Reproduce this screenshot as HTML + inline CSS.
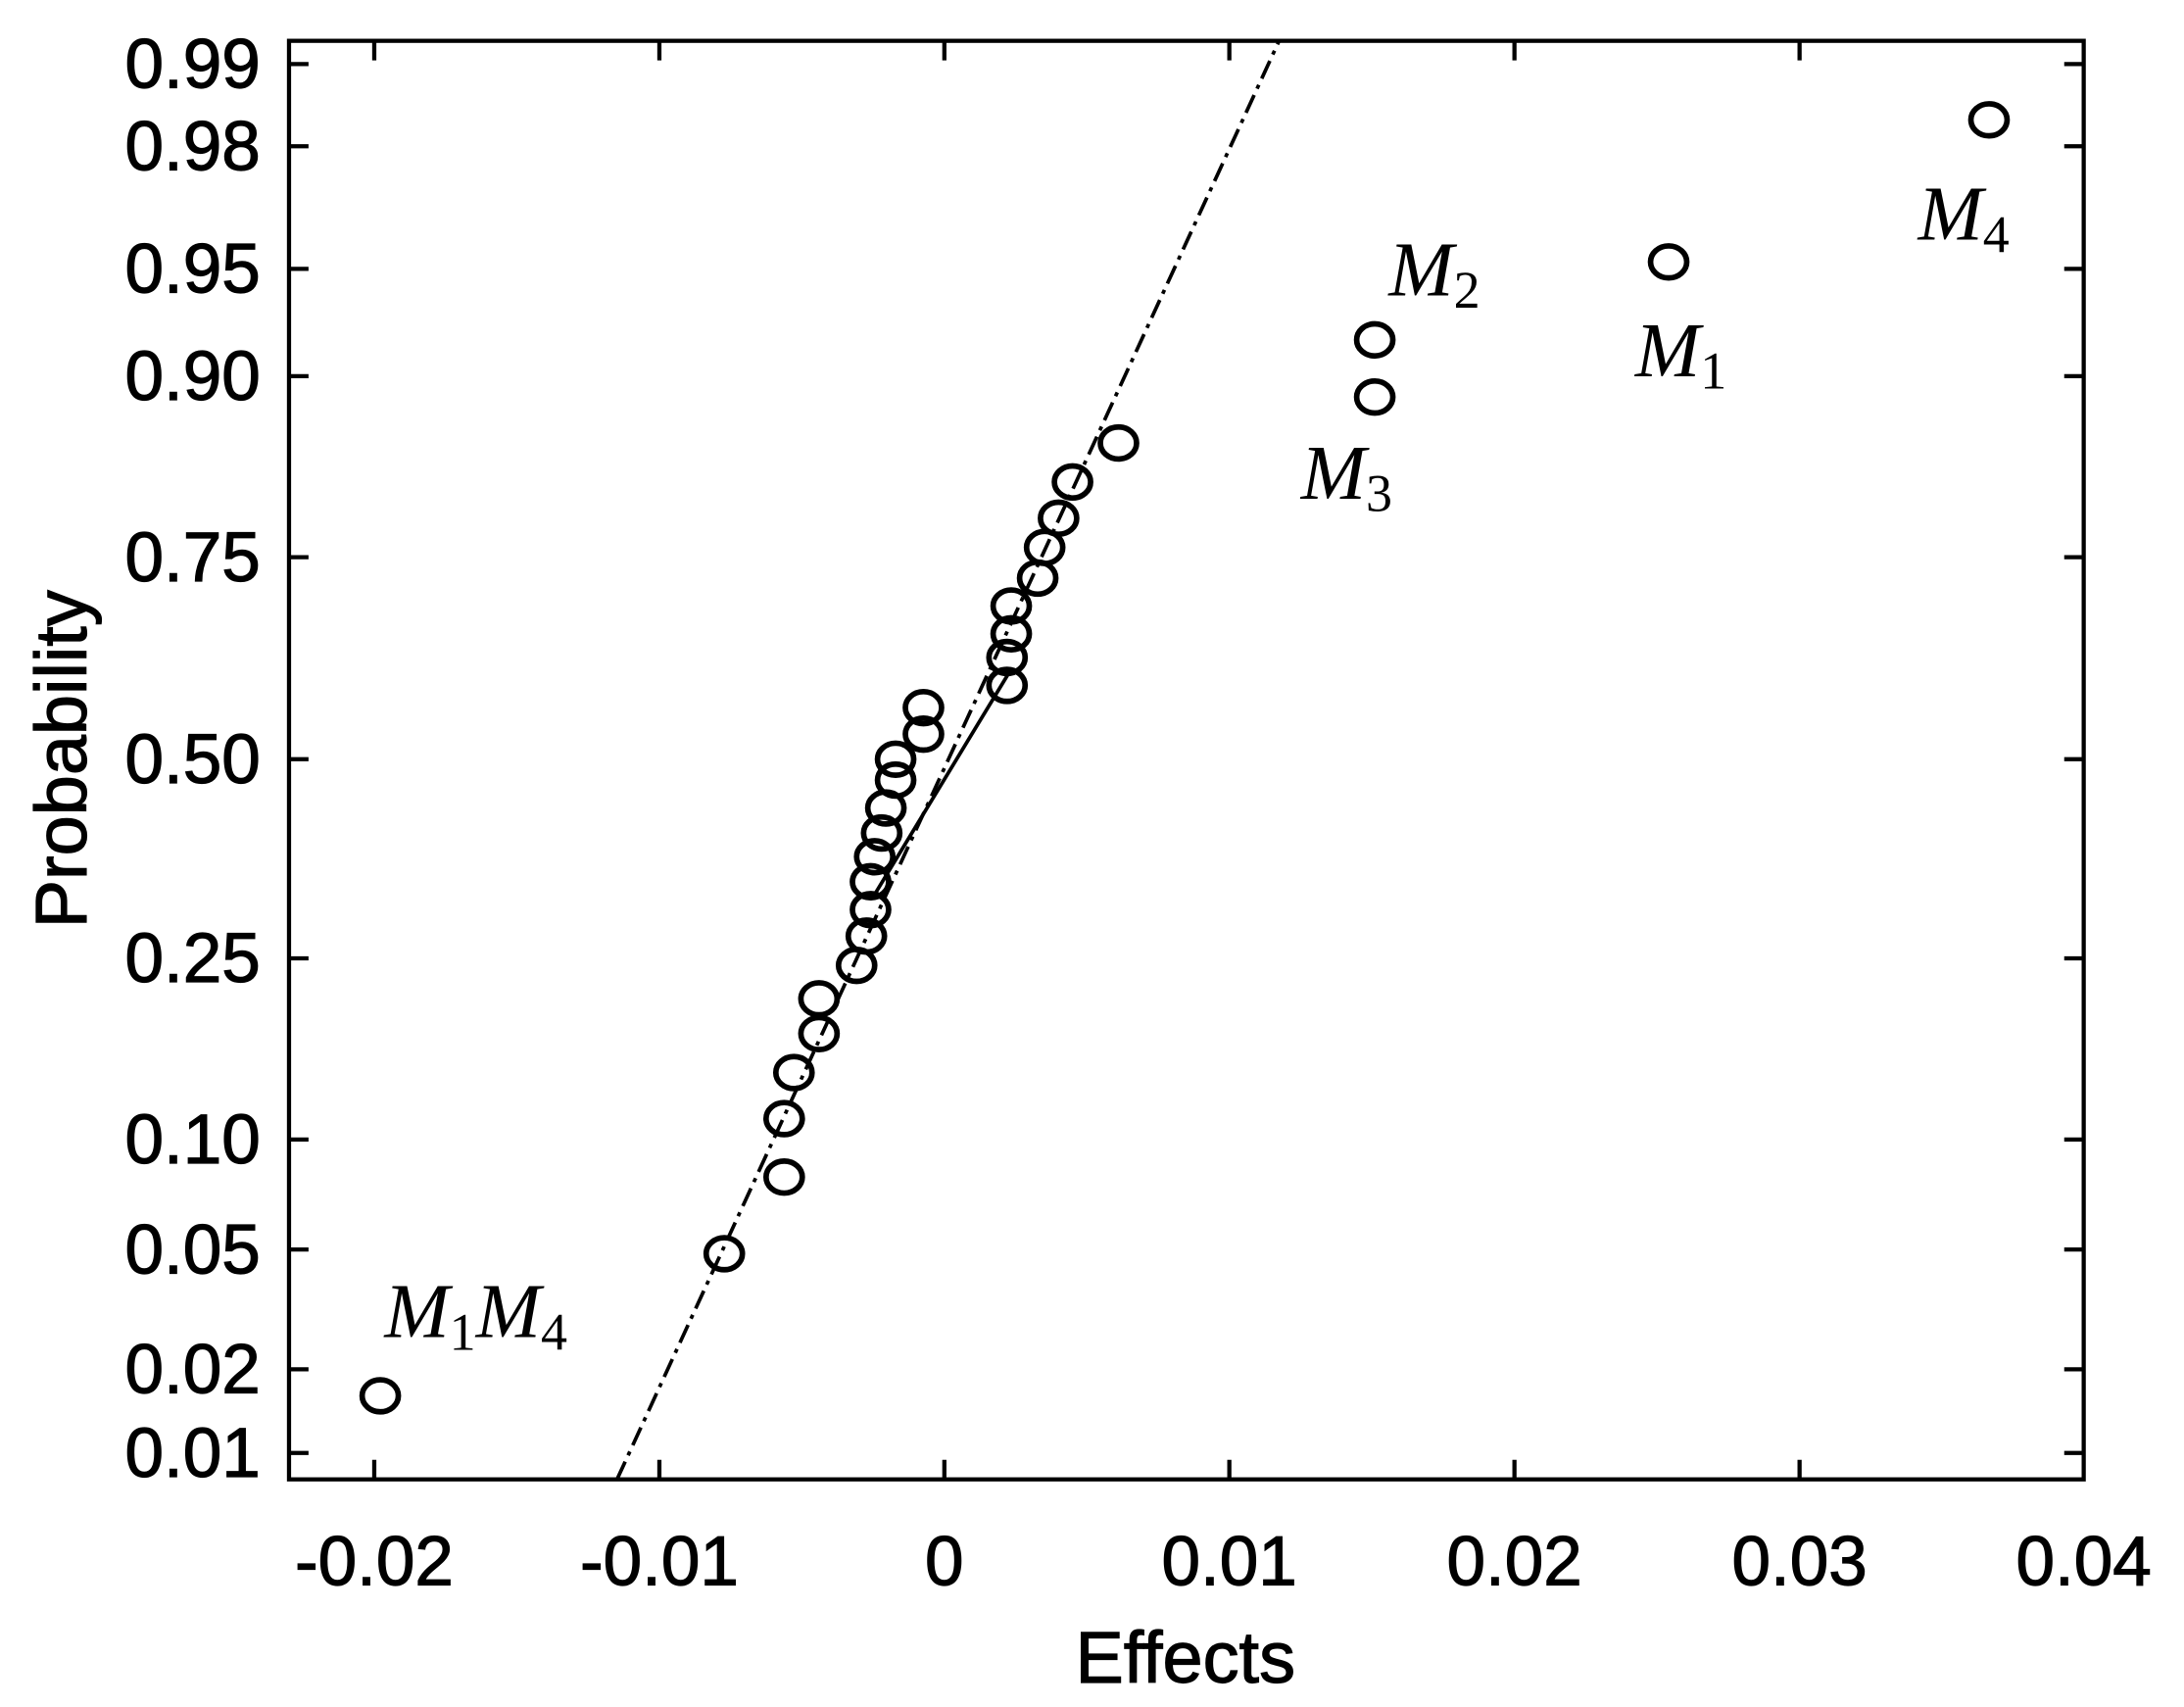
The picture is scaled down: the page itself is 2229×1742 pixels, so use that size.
<!DOCTYPE html>
<html><head><meta charset="utf-8"><style>html,body{margin:0;padding:0;background:#fff}svg{display:block}</style></head>
<body>
<svg width="2229" height="1742" viewBox="0 0 1568 1225.4" xmlns="http://www.w3.org/2000/svg">
<rect width="1568" height="1226" fill="#fff"/>
<g stroke="#000" stroke-width="3" fill="none">
<rect x="207.5" y="29.3" width="1288.5" height="1032.7"/>
<path d="M207.5 46h14M1496 46h-14M207.5 105h14M1496 105h-14M207.5 193h14M1496 193h-14M207.5 270h14M1496 270h-14M207.5 400h14M1496 400h-14M207.5 545h14M1496 545h-14M207.5 688h14M1496 688h-14M207.5 818h14M1496 818h-14M207.5 897h14M1496 897h-14M207.5 983h14M1496 983h-14M207.5 1043h14M1496 1043h-14"/>
<path d="M268.7 29.3v14M268.7 1062v-14M473.4 29.3v14M473.4 1062v-14M678 29.3v14M678 1062v-14M882.6 29.3v14M882.6 1062v-14M1087.3 29.3v14M1087.3 1062v-14M1292 29.3v14M1292 1062v-14"/>
<line x1="443" y1="1062" x2="918" y2="30" stroke-width="2.6" stroke-dasharray="14,5,3,5"/>
<line x1="628" y1="642" x2="725" y2="482" stroke-width="2.6"/>
</g>
<g stroke="#000" stroke-width="4" fill="none">
<ellipse cx="273" cy="1002" rx="13" ry="11.5"/>
<ellipse cx="520" cy="900" rx="13" ry="11.5"/>
<ellipse cx="563" cy="845" rx="13" ry="11.5"/>
<ellipse cx="563" cy="803" rx="13" ry="11.5"/>
<ellipse cx="570" cy="770" rx="13" ry="11.5"/>
<ellipse cx="588" cy="742" rx="13" ry="11.5"/>
<ellipse cx="588" cy="717" rx="13" ry="11.5"/>
<ellipse cx="615" cy="693" rx="13" ry="11.5"/>
<ellipse cx="622" cy="672" rx="13" ry="11.5"/>
<ellipse cx="625" cy="653" rx="13" ry="11.5"/>
<ellipse cx="625" cy="633" rx="13" ry="11.5"/>
<ellipse cx="628" cy="615" rx="13" ry="11.5"/>
<ellipse cx="633" cy="598" rx="13" ry="11.5"/>
<ellipse cx="636" cy="580" rx="13" ry="11.5"/>
<ellipse cx="643" cy="560" rx="13" ry="11.5"/>
<ellipse cx="643" cy="545" rx="13" ry="11.5"/>
<ellipse cx="663" cy="527" rx="13" ry="11.5"/>
<ellipse cx="663" cy="508" rx="13" ry="11.5"/>
<ellipse cx="723" cy="492" rx="13" ry="11.5"/>
<ellipse cx="723" cy="472" rx="13" ry="11.5"/>
<ellipse cx="726" cy="455" rx="13" ry="11.5"/>
<ellipse cx="726" cy="435" rx="13" ry="11.5"/>
<ellipse cx="745" cy="415" rx="13" ry="11.5"/>
<ellipse cx="750" cy="393" rx="13" ry="11.5"/>
<ellipse cx="760" cy="372" rx="13" ry="11.5"/>
<ellipse cx="770" cy="346" rx="13" ry="11.5"/>
<ellipse cx="803" cy="318" rx="13" ry="11.5"/>
<ellipse cx="987" cy="285" rx="13" ry="11.5"/>
<ellipse cx="987" cy="244" rx="13" ry="11.5"/>
<ellipse cx="1198" cy="188" rx="13" ry="11.5"/>
<ellipse cx="1428" cy="86" rx="13" ry="11.5"/>
</g>
<g font-family="Liberation Sans, sans-serif" font-size="50" fill="#000" stroke="#000" stroke-width="0.8" text-anchor="end">
<text x="187" y="63">0.99</text>
<text x="187" y="122">0.98</text>
<text x="187" y="210">0.95</text>
<text x="187" y="287">0.90</text>
<text x="187" y="417">0.75</text>
<text x="187" y="562">0.50</text>
<text x="187" y="705">0.25</text>
<text x="187" y="835">0.10</text>
<text x="187" y="914">0.05</text>
<text x="187" y="1000">0.02</text>
<text x="187" y="1060">0.01</text>
</g>
<g font-family="Liberation Sans, sans-serif" font-size="50" fill="#000" stroke="#000" stroke-width="0.8" text-anchor="middle">
<text x="268.7" y="1138">-0.02</text>
<text x="473.4" y="1138">-0.01</text>
<text x="678" y="1138">0</text>
<text x="882.6" y="1138">0.01</text>
<text x="1087.3" y="1138">0.02</text>
<text x="1292" y="1138">0.03</text>
<text x="1496" y="1138">0.04</text>
<text x="851" y="1208" font-size="52">Effects</text>
<text transform="translate(62,545) rotate(-90)" font-size="52">Probability</text>
</g>
<g font-family="Liberation Serif, serif" font-style="italic" font-size="56" fill="#000">
<text x="1377" y="172">M<tspan font-style="normal" font-size="38" dy="9">4</tspan></text>
<text x="997" y="212">M<tspan font-style="normal" font-size="38" dy="9">2</tspan></text>
<text x="1174" y="270">M<tspan font-style="normal" font-size="38" dy="9">1</tspan></text>
<text x="934" y="358">M<tspan font-style="normal" font-size="38" dy="9">3</tspan></text>
<text x="276" y="960">M<tspan font-style="normal" font-size="38" dy="9">1</tspan><tspan dy="-9">M</tspan><tspan font-style="normal" font-size="38" dy="9">4</tspan></text>
</g>
</svg>
</body></html>
